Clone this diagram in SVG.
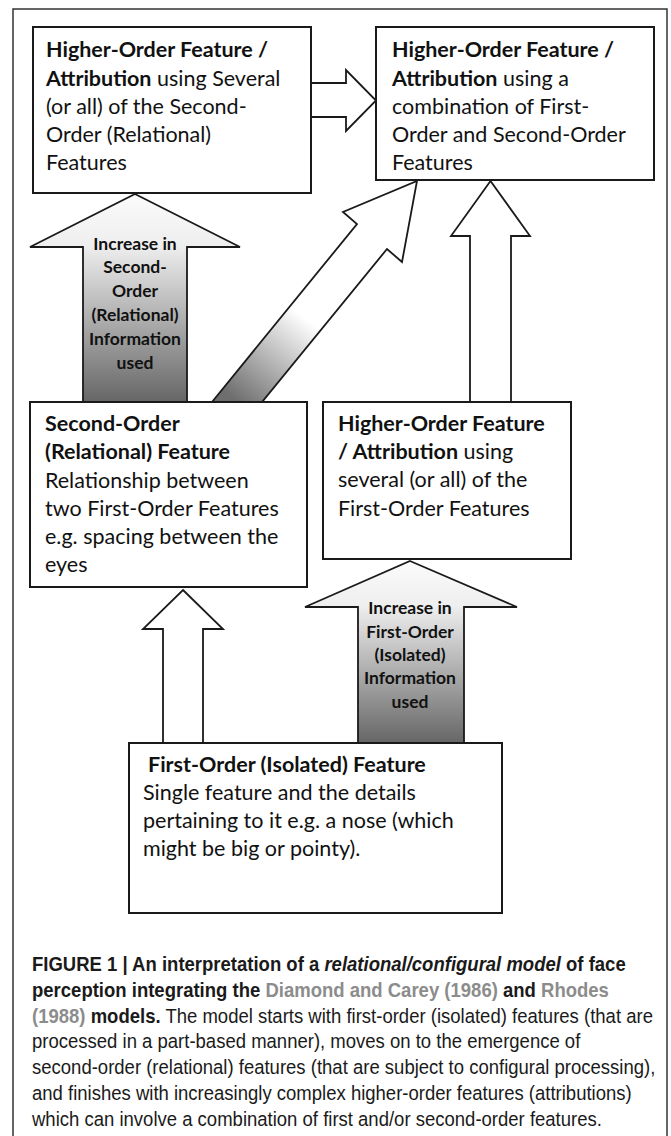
<svg xmlns="http://www.w3.org/2000/svg" width="671" height="1136" viewBox="0 0 671 1136">
<style>
.box{fill:#fff;stroke:#1a1a1a;stroke-width:2}
.arr{stroke:#1a1a1a;stroke-width:1.8;stroke-linejoin:miter}
.t{font-family:Lato,"Open Sans",sans-serif;font-size:21.5px;fill:#111}
.b{font-weight:bold}
.at{font-family:Lato,"Open Sans",sans-serif;font-size:17.5px;font-weight:bold;fill:#111;text-anchor:middle}
.cap{font-family:"Liberation Sans",Arial,sans-serif;font-size:19.5px;fill:#1a1a1a}
.g{fill:#8c8c8c}
</style>
<defs>
<linearGradient id="gv" x1="0" y1="0" x2="0" y2="1">
<stop offset="0" stop-color="#fbfbfb"/>
<stop offset="0.25" stop-color="#eeeeee"/>
<stop offset="1" stop-color="#666666"/>
</linearGradient>
<linearGradient id="gd" gradientUnits="userSpaceOnUse" x1="237" y1="402" x2="305" y2="318">
<stop offset="0" stop-color="#6e6e6e"/>
<stop offset="1" stop-color="#ffffff"/>
</linearGradient>
</defs>
<rect x="13" y="9" width="654" height="1140" fill="none" stroke="#333" stroke-width="1.5"/>
<g id="connectors">
<path class="arr" fill="#fff" d="M311,83 L346,83 L346,70 L376,100.5 L346,131 L346,117 L311,117 Z"/>
<path class="arr" fill="url(#gv)" d="M135,194 L240,247 L187,247 L187,402 L83,402 L83,247 L30,247 Z"/>
<path class="arr" fill="url(#gd)" d="M212,402 L357,224 L343,212 L417,181 L402,262 L387,249 L262,402 Z"/>
<path class="arr" fill="#fff" d="M490.5,181 L530,236 L511,236 L511,402 L470,402 L470,236 L451,236 Z"/>
<path class="arr" fill="#fff" d="M183,590 L223,629 L203,629 L203,743 L163,743 L163,629 L143,629 Z"/>
<path class="arr" fill="url(#gv)" d="M410,561 L517,607 L464,607 L464,743 L358,743 L358,607 L305,607 Z"/>
<text class="at" x="135" y="249.5">Increase in</text>
<text class="at" x="135" y="273">Second-</text>
<text class="at" x="135" y="297">Order</text>
<text class="at" x="135" y="321">(Relational)</text>
<text class="at" x="135" y="345">Information</text>
<text class="at" x="135" y="369">used</text>
<text class="at" x="410" y="614">Increase in</text>
<text class="at" x="410" y="638">First-Order</text>
<text class="at" x="410" y="661">(Isolated)</text>
<text class="at" x="410" y="684">Information</text>
<text class="at" x="410" y="708">used</text>
</g>
<g id="nodeA">
<rect class="box" x="33" y="27" width="278" height="166"/>
<text class="t" x="46" y="57"><tspan class="b">Higher-Order Feature /</tspan></text>
<text class="t" x="46" y="85.5"><tspan class="b">Attribution</tspan> using Several</text>
<text class="t" x="46" y="114">(or all) of the Second-</text>
<text class="t" x="46" y="142">Order (Relational)</text>
<text class="t" x="46" y="170">Features</text>
</g>
<g id="nodeB">
<rect class="box" x="376" y="27" width="278" height="153"/>
<text class="t" x="392" y="57"><tspan class="b">Higher-Order Feature /</tspan></text>
<text class="t" x="392" y="85.5"><tspan class="b">Attribution</tspan> using a</text>
<text class="t" x="392" y="114">combination of First-</text>
<text class="t" x="392" y="142">Order and Second-Order</text>
<text class="t" x="392" y="170">Features</text>
</g>
<g id="nodeC">
<rect class="box" x="30" y="402" width="277" height="185"/>
<text class="t b" x="45" y="431">Second-Order</text>
<text class="t b" x="45" y="459">(Relational) Feature</text>
<text class="t" x="45" y="488">Relationship between</text>
<text class="t" x="45" y="516">two First-Order Features</text>
<text class="t" x="45" y="544">e.g. spacing between the</text>
<text class="t" x="45" y="572">eyes</text>
</g>
<g id="nodeD">
<rect class="box" x="323" y="402" width="248" height="157"/>
<text class="t b" x="338" y="431">Higher-Order Feature</text>
<text class="t" x="338" y="459"><tspan class="b">/ Attribution</tspan> using</text>
<text class="t" x="338" y="487">several (or all) of the</text>
<text class="t" x="338" y="516">First-Order Features</text>
</g>
<g id="nodeE">
<rect class="box" x="129" y="743" width="373" height="170"/>
<text class="t b" x="148" y="772">First-Order (Isolated) Feature</text>
<text class="t" x="143" y="800">Single feature and the details</text>
<text class="t" x="143" y="828">pertaining to it e.g. a nose (which</text>
<text class="t" x="143" y="856">might be big or pointy).</text>
</g>
<g id="caption" transform="translate(32,0) scale(0.95,1)">
<text class="cap" x="0" y="971" font-weight="bold">FIGURE 1 | An interpretation of a <tspan font-style="italic">relational/configural model</tspan> of face</text>
<text class="cap" x="0" y="997" font-weight="bold">perception integrating the <tspan class="g">Diamond and Carey (1986)</tspan> and <tspan class="g">Rhodes</tspan></text>
<text class="cap" x="0" y="1023"><tspan class="g" font-weight="bold">(1988)</tspan> <tspan font-weight="bold">models.</tspan> The model starts with first-order (isolated) features (that are</text>
<text class="cap" x="0" y="1048.5">processed in a part-based manner), moves on to the emergence of</text>
<text class="cap" x="0" y="1074">second-order (relational) features (that are subject to configural processing),</text>
<text class="cap" x="0" y="1100">and finishes with increasingly complex higher-order features (attributions)</text>
<text class="cap" x="0" y="1126">which can involve a combination of first and/or second-order features.</text>
</g>
</svg>
